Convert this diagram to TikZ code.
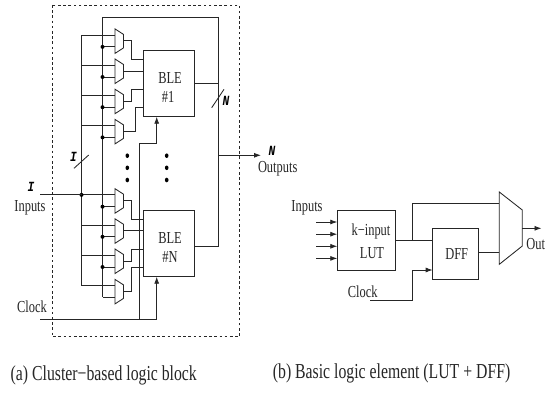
\documentclass[tikz,border=0pt]{standalone}
\usepackage{fontspec}
\setmainfont[FakeStretch=0.74]{Liberation Serif}
\newfontfamily\labfont[FakeStretch=0.8]{Liberation Mono}
\usetikzlibrary{arrows.meta,calc,shapes.geometric}
\tikzset{
  wire/.style={line width=0.85pt,draw=black!85},
  arrowed/.style={wire,-{Latex[length=7pt,width=5pt]}},
  boxnode/.style={draw=black!85,line width=0.85pt,inner sep=0pt,outer sep=0pt},
  txt/.style={inner sep=0pt,font=\fontsize{16.8}{19}\selectfont,text=black!85},
  captxt/.style={inner sep=0pt,anchor=west,font=\fontsize{21.3}{24}\selectfont,text=black!85},
  lab/.style={inner sep=0pt,font=\labfont\bfseries\itshape\fontsize{14}{16}\selectfont},
  dotn/.style={fill=black,circle,inner sep=0pt,minimum size=4pt},
  vdot/.style={fill=black,ellipse,inner sep=0pt,minimum width=3.6pt,minimum height=4.6pt}
}
\newcommand{\muxcell}[2]{%
  \draw[wire] (115,#2) -- (123.5,#2+5.5) -- (123.5,#2+19) -- (115,#2+24.5) -- cycle;
  \coordinate (#1a) at (115,#2+6.2);
  \coordinate (#1b) at (115,#2+18);
  \coordinate (#1o) at (123.5,#2+12);
  \coordinate (#1x) at (81.5,#2+6.2);
  \coordinate (#1y) at (102.5,#2+18);
}
\begin{document}
\begin{tikzpicture}[x=1pt,y=-1pt]
\useasboundingbox (0,0) rectangle (556,393);
\fill[white] (0,0) rectangle (556,393);
% dashed cluster
\draw[line width=0.8pt,dash pattern=on 2.6pt off 2.6pt,draw=black!85] (52,5) rectangle (239.4,336.7);
% muxes
\muxcell{ma}{28.9}
\muxcell{mb}{59}
\muxcell{mc}{89.2}
\muxcell{md}{119.4}
\muxcell{me}{188.7}
\muxcell{mf}{218.8}
\muxcell{mg}{249}
\muxcell{mh}{279.4}
% BLE boxes
\node[boxnode,minimum width=50.3pt,minimum height=66.7pt] (ble1) at (168.85,83.35) {};
\node[boxnode,minimum width=50.3pt,minimum height=66.7pt] (bleN) at (168.85,243.35) {};
\node[txt] (t1) at (170,77.7) {BLE};
\node[txt] (t2) at (168,96.7) {\#1};
\node[txt] (t3) at (170,237.7) {BLE};
\node[txt] (t4) at (170,256.7) {\#N};
% buses
\coordinate (feedtop) at (102.5,17);
\coordinate (outtop) at (218.7,17);
\draw[wire] (outtop) -- (feedtop) -- (mhy);
\draw[wire] (max) -- (mhx);
\foreach \m in {ma,mb,mc,md,me,mf,mg,mh}{
  \draw[wire] (\m x) -- (\m a);
  \draw[wire] (\m y) -- (\m b);
}
\foreach \m in {ma,mb,mc,md,me,mf,mg}{ \node[dotn] at (\m y) {}; }
\node[dotn] at (mex) {};
% mux to BLE wires
\coordinate (p1) at (143.7,59.3); \coordinate (p2) at (143.7,71);
\coordinate (p3) at (143.7,89.3); \coordinate (p4) at (143.7,107.3);
\coordinate (q1) at (143.7,219.3); \coordinate (q2) at (143.7,231);
\coordinate (q3) at (143.7,249.3); \coordinate (q4) at (143.7,267.7);
\draw[wire] (mao) -- ++(7.8,0) |- (p1);
\draw[wire] (mbo) -- (mbo -| p2);
\draw[wire] (mco) -- ++(7.8,0) |- (p3);
\draw[wire] (mdo) -- ++(12.2,0) |- (p4);
\draw[wire] (meo) -- ++(7.8,0) |- (q1);
\draw[wire] (mfo) -- (mfo -| q2);
\draw[wire] (mgo) -- ++(7.8,0) |- (q3);
\draw[wire] (mho) -- ++(7.8,0) |- (q4);
% inputs and clock
\coordinate (inL) at (40,194.9);
\draw[wire] (inL) -- (mex);
\coordinate (clkL) at (40,319);
\coordinate (clkE) at (156.7,319);
\coordinate (clkV) at (139.7,319);
\draw[wire] (clkL) -- (clkE);
\draw[arrowed] (clkE) -- (clkE |- bleN.south);
\draw[arrowed] (clkV) |- (156.7,143.3) -- (156.7 ,116.7);
% outputs
\draw[wire] (outtop) -- (218.7,246.3) -- (218.7,246.3 -| bleN.east);
\draw[wire] (ble1.east |- 0,83.3) -- (218.7,83.3);
\coordinate (outA) at (218.7,155.3);
\coordinate (outB) at (261,155.3);
\draw[arrowed] (outA) -- (outB);
% slashes
\coordinate (s1a) at (211.7,107.7); \coordinate (s1b) at (224,89.3);
\coordinate (s2a) at (74,168.3); \coordinate (s2b) at (88.7,155);
\draw[wire] (s1a) -- (s1b);
\draw[wire] (s2a) -- (s2b);
% ellipsis dots
\foreach \x in {127.3,166.7}{ \foreach \y in {155.7,167.8,180}{ \node[vdot] at (\x,\y) {}; } }
% labels
\node[lab] (li) at (73.5,157) {I};
\node[lab] (li2) at (31,186.7) {I};
\node[lab] (ln) at (226,101) {N};
\node[lab] (ln2) at (272,151) {N};
\node[txt] (ti) at (30,207.7) {Inputs};
\node[txt] (tc) at (32,306.7) {Clock};
\node[txt] (to) at (277.7,168.3) {Outputs};
% panel b
\node[boxnode,minimum width=58.4pt,minimum height=60.7pt] (lut) at (366.5,240.35) {};
\node[boxnode,minimum width=46pt,minimum height=51.3pt] (dff) at (455.7,253.65) {};
\node[txt] (tk) at (371,231.7) {k−input};
\node[txt] (tl) at (372,253.3) {LUT};
\node[txt] (td) at (456.7,254.3) {DFF};
\coordinate (ma1) at (499.3,192); \coordinate (ma2) at (522.3,210);
\coordinate (ma3) at (522.3,246); \coordinate (ma4) at (499.3,264.3);
\draw[wire] (ma1) -- (ma2) -- (ma3) -- (ma4) -- cycle;
\foreach \y in {222,234.2,246.3,258.4}{
  \draw[arrowed] (316,\y) -- (316,\y -| lut.west);
}
\coordinate (lo) at (lut.east |- 0,240.3);
\coordinate (di) at (dff.west |- 0,240.3);
\coordinate (br) at (412.3,240.3);
\draw[wire] (lo) -- (di);
\draw[wire] (br) |- (499.3,203.7);
\draw[wire] (dff.east |- 0,252.3) -- (499.3,252.3);
\coordinate (oa) at (522.3,228.3); \coordinate (ob) at (541.5,228.3);
\draw[arrowed] (oa) -- (ob);
\coordinate (ck) at (370,300);
\draw[arrowed] (ck) -| (412.3,270) -- (dff.west |- 0,270);
\node[txt] (tib) at (307,207.7) {Inputs};
\node[txt] (tcb) at (362.7,292) {Clock};
\node[txt] (tob) at (535.7,243.7) {Out};
% captions
\node[captxt] (c1) at (10.5,375) {(a) Cluster−based logic block};
\node[captxt] (c2) at (272.7,373) {(b) Basic logic element (LUT + DFF)};
\end{tikzpicture}
\end{document}
